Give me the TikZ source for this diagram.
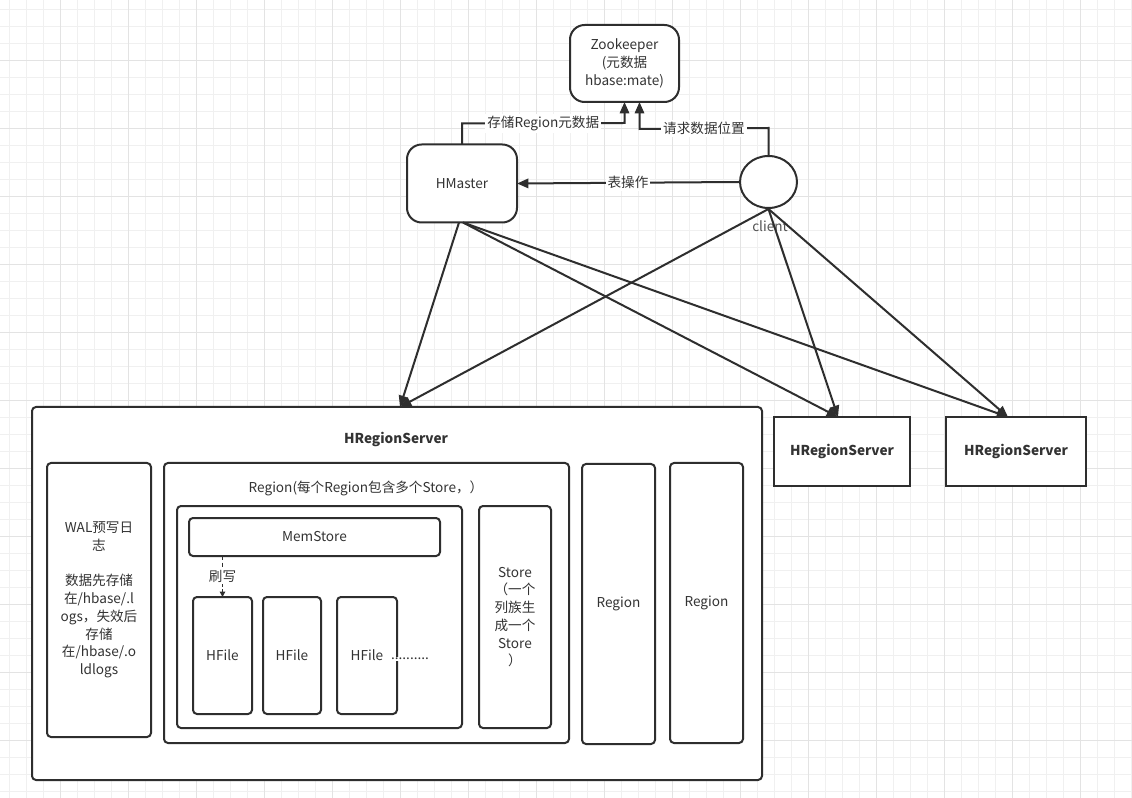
\documentclass[tikz,border=0pt]{standalone}
\usepackage{fontspec}
\setmainfont{Noto Sans CJK SC}
\usetikzlibrary{shapes.geometric,arrows.meta,calc}
\newdimen\pxu \pxu=0.75pt
\definecolor{ln}{HTML}{2E2E2E}
\definecolor{tx}{HTML}{333333}
\definecolor{gmin}{HTML}{F0F0F0}
\definecolor{gmaj}{HTML}{E3E3E3}
\begin{document}
\begin{tikzpicture}[x=0.75pt,y=-0.75pt,
 font=\fontsize{10.2}{13.3}\selectfont, text=tx,
 box/.style={draw=ln,line width=1.5pt,fill=white,inner sep=0pt,outer sep=0pt,rounded corners=3pt,align=center},
 sharp/.style={box,rounded corners=0pt},
 round/.style={box,rounded corners=11pt},
 arr/.style={draw=ln,line width=1.5pt,-{Triangle[length=8.5pt,width=7pt]}},
 lbl/.style={fill=white,inner sep=1.5pt,text=tx},
 bf/.style={font=\fontsize{10.2}{13.3}\selectfont\bfseries}]
\useasboundingbox (0,0) rectangle (1132,798);
\fill[white] (0,0) rectangle (1132,798);
\foreach \v in {9,26,...,1132} \draw[gmin,line width=0.5pt] (\v,0) -- (\v,798);
\foreach \v in {9,26,...,798} \draw[gmin,line width=0.5pt] (0,\v) -- (1132,\v);
\foreach \v in {60,128,...,1132} \draw[gmaj,line width=0.6pt] (\v,0) -- (\v,798);
\foreach \v in {60,128,...,798} \draw[gmaj,line width=0.6pt] (0,\v) -- (1132,\v);

% top nodes
\node[round,minimum width=109\pxu,minimum height=77\pxu] (zk) at (624.5,63.5) {Zookeeper\\(元数据\\hbase:mate)};
\node[round,minimum width=110\pxu,minimum height=78\pxu] (hm) at (462,183.5) {HMaster};
\node[draw=ln,line width=1.5pt,fill=white,ellipse,inner sep=0pt,minimum width=57\pxu,minimum height=52\pxu] (cl) at (768.5,182) {};
\node[text=tx!85] (cllbl) at (770,226) {client};

% region servers
\node[box,minimum width=730\pxu,minimum height=373\pxu] (hrs1) at (397,593.5) {};
\node[bf] (hrs1t) at (396,439) {HRegionServer};
\node[sharp,bf,minimum width=136\pxu,minimum height=69\pxu] (hrs2) at (842,451.5) {HRegionServer};
\node[sharp,bf,minimum width=140\pxu,minimum height=69\pxu] (hrs3) at (1016,451.5) {HRegionServer};

% inside big server
\node[box,minimum width=104\pxu,minimum height=274\pxu] (wal) at (99,600) {WAL预写日\\志\\\mbox{}\\数据先存储\\在/hbase/.l\\ogs，失效后\\存储\\在/hbase/.o\\ldlogs};
\node[box,minimum width=405\pxu,minimum height=280\pxu] (reg) at (366.5,603) {};
\node (regt) at (366,488) {Region(每个Region包含多个Store，）};
\node[box,minimum width=285\pxu,minimum height=222\pxu] (st) at (319.5,617) {};
\node[box,minimum width=251\pxu,minimum height=38\pxu] (ms) at (314.5,537) {MemStore};
\node[box,minimum width=59\pxu,minimum height=117\pxu] (hf1) at (222.5,655.5) {HFile};
\node[box,minimum width=58\pxu,minimum height=117\pxu] (hf2) at (292,655.5) {HFile};
\node[box,minimum width=60\pxu,minimum height=117\pxu] (hf3) at (367,655.5) {HFile};
\node[fill=white,inner sep=1pt] (dots) at (410,659) {..........};
\node[box,minimum width=72\pxu,minimum height=222\pxu] (cs) at (515,617) {Store\\（一个\\列族生\\成一个\\Store\\）};
\node[box,minimum width=73\pxu,minimum height=280\pxu] (reg2) at (618.5,604) {Region};
\node[box,minimum width=73\pxu,minimum height=280\pxu] (reg3) at (706.5,603) {Region};

% flush arrow
\draw[draw=ln,line width=1.2pt,dash pattern=on 3pt off 2pt,-{Triangle[length=4pt,width=4pt]}] (hf1.north |- ms.south) -- node[lbl,inner sep=1pt]{刷写} (hf1.north);

% top connectors
\coordinate (zkb) at ($(zk.south)+(15,0)$);
\draw[arr] (hm.north) -- ($(hm.north)+(0,-21)$) -- node[lbl]{存储Region元数据} ($(zk.south)+(0,21)$) -- (zk.south);
\draw[arr] (cl.north) -- ($(cl.north)+(0,-27)$) -- node[lbl]{请求数据位置} ($(zkb)+(0,27)$) -- (zkb);
\draw[arr] (cl.west) -- node[lbl]{表操作} (hm.east);

% bottom connectors
\coordinate (t1) at ($(hrs1.north west)+(368,0)$);
\coordinate (t2) at ($(hrs2.north)+(-4,0)$);
\coordinate (t3) at ($(hrs3.north)+(-8,0)$);
\draw[arr] ($(hm.south)+(-3,0)$) -- (t1);
\draw[arr] ($(hm.south)+(1,0)$) -- (t2);
\draw[arr] ($(hm.south)+(1,0)$) -- (t3);
\draw[arr] (cl.south) -- (t1);
\draw[arr] (cl.south) -- (t2);
\draw[arr] (cl.south) -- (t3);
\end{tikzpicture}
\end{document}
